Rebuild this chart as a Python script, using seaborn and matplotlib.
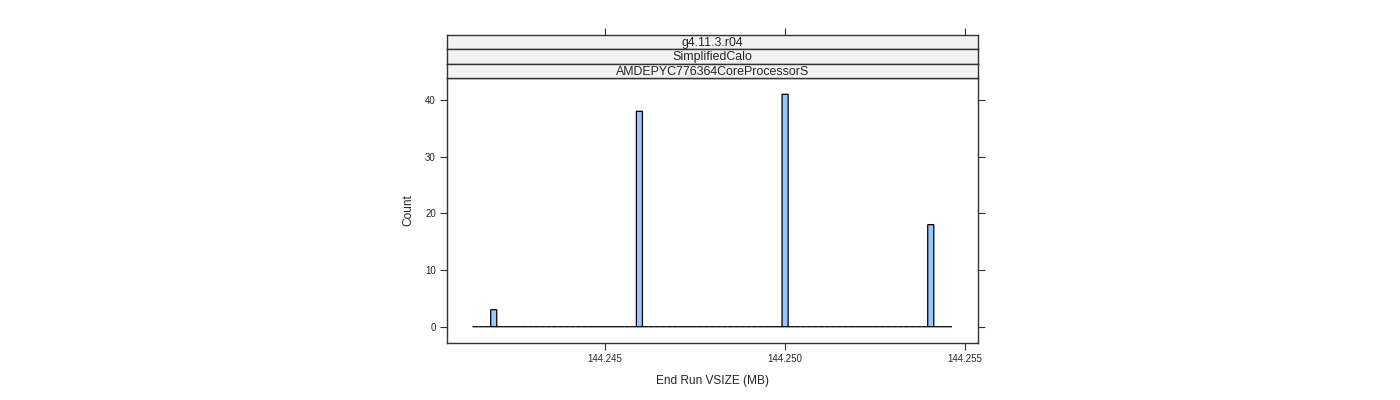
import numpy as np
import pandas as pd
import matplotlib
matplotlib.use("Agg")
import matplotlib.pyplot as plt
import seaborn as sns

# ---- data ----
vsize = [144.24192, 144.24597, 144.25001, 144.25406]   # End Run VSIZE (MB)
counts = [3, 38, 41, 18]
strip_labels = ["g4.11.3.r04", "SimplifiedCalo", "AMDEPYC776364CoreProcessorS"]
x_ticks = [144.245, 144.250, 144.255]
x_ticklabels = ["144.245", "144.250", "144.255"]
y_ticks = [0, 10, 20, 30, 40]
bin_lo, bin_hi, n_bins = 144.24133, 144.25465, 79

df = pd.DataFrame({"vsize": vsize, "count": counts})

sns.set_style("white")
plt.rcParams["font.family"] = ["Liberation Sans", "DejaVu Sans"]

W, H = 1400, 400
fig = plt.figure(figsize=(W / 100, H / 100), dpi=100)

def box(l, t, r, b):
    return [l / W, 1 - b / H, (r - l) / W, (b - t) / H]

ax = fig.add_axes(box(447, 78, 978, 343))
edges = np.linspace(bin_lo, bin_hi, n_bins + 1).tolist()
sns.histplot(data=df, x="vsize", weights="count", bins=edges, ax=ax,
             color="#96C8FF", edgecolor="black", linewidth=0.9, alpha=1.0,
             stat="count", snap=False)
ax.set_xlim(144.240622, 144.255372)
ax.set_ylim(-2.87, 43.87)
ax.set_xticks(x_ticks)
ax.set_xticklabels(x_ticklabels)
ax.set_yticks(y_ticks)
ax.set_xlabel("End Run VSIZE (MB)", fontsize=8.6, labelpad=8)
ax.set_ylabel("Count", fontsize=8.6, labelpad=8)
ax.tick_params(axis="both", which="both", direction="out", length=5, width=0.8,
               color="#333333", labelsize=7, pad=3)
ax.tick_params(axis="y", right=True, left=True, labelright=False)
ax.tick_params(axis="x", bottom=True, top=False)
for s in ax.spines.values():
    s.set_color("#333333")
    s.set_linewidth(1.0)
    s.set_visible(True)

# strips
strip_bounds = [(35, 49.3), (49.3, 63.7), (63.7, 78)]
for i, (lab, (t, b)) in enumerate(zip(strip_labels, strip_bounds)):
    sax = fig.add_axes(box(447, t, 978, b))
    sax.set_facecolor("#F2F2F2")
    sax.set_xlim(ax.get_xlim())
    sax.set_ylim(0, 1)
    sax.set_yticks([])
    for s in sax.spines.values():
        s.set_color("#333333")
        s.set_linewidth(1.0)
    if i == 0:
        sax.set_xticks(x_ticks)
        sax.tick_params(axis="x", top=True, bottom=False, labeltop=False,
                        labelbottom=False, direction="out", length=5,
                        width=0.8, color="#333333")
    else:
        sax.set_xticks([])
    sax.text(0.5, 0.45, lab, ha="center", va="center", fontsize=8.9,
             transform=sax.transAxes)

fig.savefig("out.png", dpi=100)
